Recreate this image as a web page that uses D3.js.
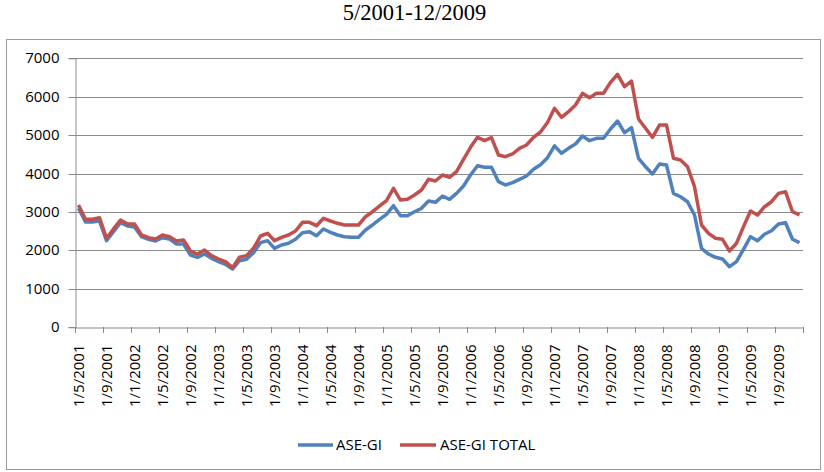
<!DOCTYPE html>
<html><head><meta charset="utf-8">
<script src="https://cdn.jsdelivr.net/npm/d3@7"></script>
<style>body{margin:0;background:#fff}svg{display:block}</style>
</head><body><div id="chart"></div>
<script>
const title = "5/2001-12/2009";
const seriesNames = ["ASE-GI", "ASE-GI TOTAL"];
const yTicks = [0,1000,2000,3000,4000,5000,6000,7000];
const aseGI = [3100,2740,2740,2770,2254,2490,2722,2636,2610,2358,2290,2245,2332,2298,2167,2167,1881,1821,1907,1795,1708,1639,1517,1734,1769,1941,2202,2254,2055,2141,2186,2290,2462,2488,2384,2558,2472,2402,2358,2342,2342,2532,2662,2810,2940,3164,2904,2904,3008,3096,3286,3252,3416,3330,3486,3677,3963,4205,4163,4163,3789,3703,3763,3851,3937,4111,4232,4413,4722,4528,4658,4770,4978,4856,4918,4918,5160,5368,5064,5194,4398,4180,3989,4249,4223,3486,3398,3268,2922,2055,1907,1821,1777,1577,1708,2029,2358,2254,2420,2514,2688,2722,2290,2202];
const aseGITotal = [3180,2810,2810,2850,2316,2560,2792,2688,2688,2402,2332,2298,2402,2358,2245,2270,1985,1907,2011,1864,1777,1708,1551,1821,1864,2055,2376,2446,2254,2342,2402,2506,2732,2732,2644,2836,2766,2706,2662,2662,2662,2878,3008,3156,3294,3617,3312,3330,3443,3573,3851,3807,3963,3903,4049,4372,4684,4944,4856,4934,4484,4440,4510,4658,4744,4944,5082,5330,5699,5465,5610,5785,6089,5975,6089,6089,6375,6584,6261,6409,5420,5178,4944,5264,5264,4398,4353,4180,3659,2662,2446,2316,2290,1985,2186,2618,3026,2922,3138,3268,3486,3529,3008,2922];
// categories: first of each month, 5/2001 .. 12/2009, labelled d/m/yyyy
const categories = [];
for (let y = 2001; y <= 2009; y++) for (let m = 1; m <= 12; m++) {
  if (y === 2001 && m < 5) continue;
  categories.push("1/" + m + "/" + y);
}
const W = 824, H = 472;
const svg = d3.select("#chart").append("svg").attr("width", W).attr("height", H);
const font = "'Open Sans', sans-serif";

svg.append("rect").attr("x",6.5).attr("y",39.5).attr("width",814).attr("height",430)
  .attr("fill","#fff").attr("stroke","#9a9a9a").attr("stroke-width",1);

svg.append("text").attr("x",414.5).attr("y",20).attr("text-anchor","middle")
  .attr("font-family","'Liberation Serif', 'Times New Roman', serif").attr("font-size",22.5)
  .attr("fill","#000").text(title);

const x = d3.scaleBand().domain(categories).range([75, 803]);
const y = d3.scaleLinear().domain([0,7000]).range([327.3, 58.3]);

// gridlines
svg.append("g").selectAll("line").data(yTicks.filter(d=>d>0)).join("line")
  .attr("x1",75).attr("x2",803).attr("y1",d=>Math.round(y(d))+0.5).attr("y2",d=>Math.round(y(d))+0.5)
  .attr("stroke","#8a8a8a").attr("stroke-width",1);

// y axis
const yAxis = svg.append("g").attr("transform","translate(75.5,0)")
  .call(d3.axisLeft(y).tickValues(yTicks).tickSize(7).tickPadding(9).tickFormat(d3.format("d")));
yAxis.select(".domain").attr("stroke","#8a8a8a");
yAxis.selectAll(".tick line").attr("stroke","#8a8a8a");
yAxis.selectAll(".tick").attr("transform", d => "translate(0," + (Math.round(y(d))+0.5) + ")");
yAxis.selectAll("text").attr("font-family",font).attr("font-size",15).attr("fill","#000");

// x axis
const tickCats = categories.filter((d,i)=>i%4===0);
const xAxis = svg.append("g").attr("transform","translate(0," + (Math.round(y(0))+0.5) + ")")
  .call(d3.axisBottom(x).tickValues(tickCats).tickSize(0).tickSizeOuter(0));
xAxis.select(".domain").attr("stroke","#8a8a8a");
xAxis.selectAll(".tick line").remove();
xAxis.selectAll(".tick text")
  .attr("font-family",font).attr("font-size",15).attr("fill","#000")
  .attr("text-anchor","end").attr("dy","0.35em")
  .attr("transform","translate(0,17) rotate(-90)").attr("x",0).attr("y",0);
// tick marks between categories
const tickPos = tickCats.map(c => x(c)).concat([803]);
svg.append("g").selectAll("line").data(tickPos).join("line")
  .attr("x1",d=>Math.round(d)+0.5).attr("x2",d=>Math.round(d)+0.5)
  .attr("y1",Math.round(y(0))).attr("y2",Math.round(y(0))+6)
  .attr("stroke","#8a8a8a");

const line = d3.line().x((d,i)=>x(categories[i]) + x.bandwidth()/2).y(d=>y(d));
svg.append("path").datum(aseGI).attr("d",line).attr("fill","none")
  .attr("stroke","#4F81BD").attr("stroke-width",3.5).attr("stroke-linejoin","round");
svg.append("path").datum(aseGITotal).attr("d",line).attr("fill","none")
  .attr("stroke","#C0504D").attr("stroke-width",3.5).attr("stroke-linejoin","round");

// legend
const legend = [{name:seriesNames[0],color:"#4F81BD",x1:298,x2:333,tx:336},
                {name:seriesNames[1],color:"#C0504D",x1:400,x2:436,tx:440}];
const lg = svg.append("g");
lg.selectAll("line").data(legend).join("line")
  .attr("x1",d=>d.x1).attr("x2",d=>d.x2).attr("y1",445).attr("y2",445)
  .attr("stroke",d=>d.color).attr("stroke-width",3.5);
lg.selectAll("text").data(legend).join("text")
  .attr("x",d=>d.tx).attr("y",445).attr("dy","0.35em")
  .attr("font-family",font).attr("font-size",15).attr("fill","#000").text(d=>d.name);
</script></body></html>
